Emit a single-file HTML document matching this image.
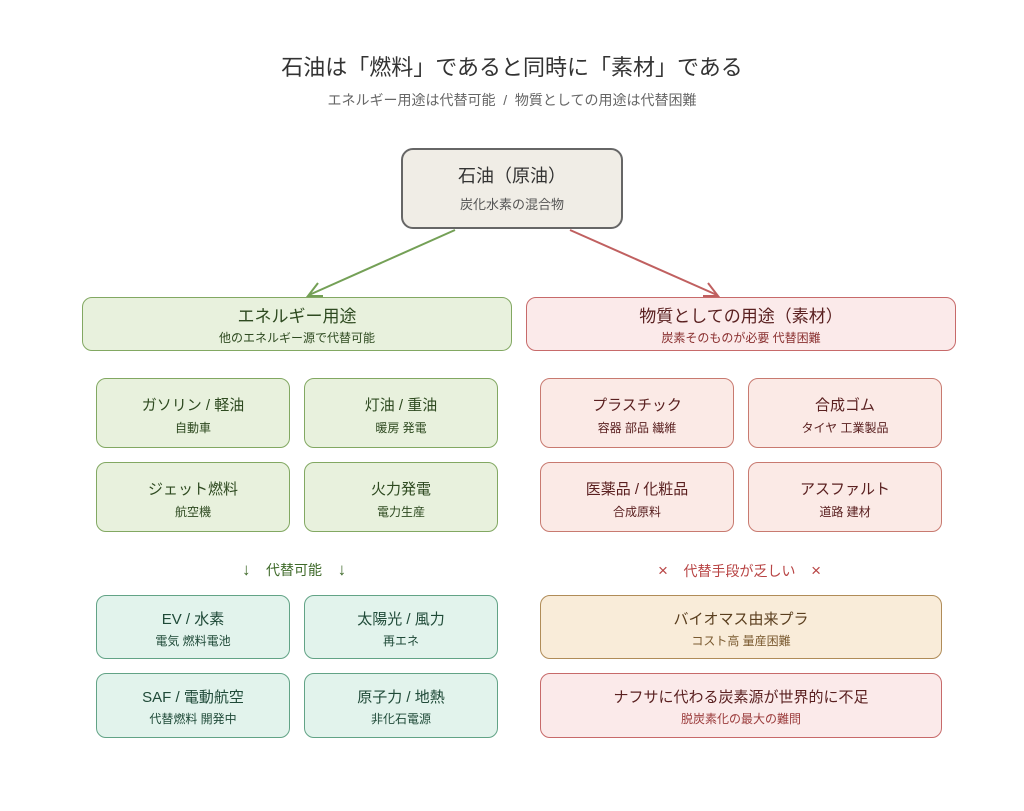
<!DOCTYPE html><html><head><meta charset="utf-8"><style>
body{margin:0;width:1024px;height:811px;background:#fff;font-family:"Liberation Sans","Noto Sans CJK JP",sans-serif;position:relative;overflow:hidden}
.b{position:absolute;box-sizing:border-box;border:1.5px solid;border-radius:10px;text-align:center}
.t{position:absolute;left:0;right:0;line-height:1.45}
.g{background:#e8f1dd;border-color:#82a862;color:#2e4a20}
.r{background:#fbeaea;border-color:#c76a6a;color:#5a2020}
.rs{background:#fbeae6;border-color:#c87a70;color:#5a2020}
.tl{background:#e2f3ec;border-color:#62a386;color:#1f4a38}
.o{background:#f9ecd9;border-color:#b08c58;color:#5a3e1e}
.s{position:absolute;font-size:14px;white-space:nowrap}
</style></head><body>
<div class="s" style="left:0;right:0;text-align:center;top:50px;font-size:22px;color:#333">石油は「燃料」であると同時に「素材」である</div>
<div class="s" style="left:0;right:0;text-align:center;top:90px;font-size:14px;color:#666">エネルギー用途は代替可能&nbsp;&nbsp;/&nbsp;&nbsp;物質としての用途は代替困難</div>

<div class="b" style="left:401px;top:148px;width:222px;height:81px;background:#f0ede6;border-color:#666;border-width:2px;border-radius:12px;color:#333">
<div class="t" style="top:13px;font-size:18px">石油（原油）</div><div class="t" style="top:46px;font-size:13px;color:#555">炭化水素の混合物</div></div>

<svg style="position:absolute;left:0;top:0" width="1024" height="811">
<line x1="455" y1="230" x2="309" y2="295" stroke="#74a056" stroke-width="2"/>
<polyline points="318,283 308,296 323,296" fill="none" stroke="#74a056" stroke-width="2"/>
<line x1="570" y1="230" x2="717" y2="295" stroke="#c06060" stroke-width="2"/>
<polyline points="703,296 718,296 708,283" fill="none" stroke="#c06060" stroke-width="2"/>
</svg>

<div class="b g" style="left:82px;top:297px;width:430px;height:54px"><div class="t" style="top:7px;font-size:17px">エネルギー用途</div><div class="t" style="top:32px;font-size:12px">他のエネルギー源で代替可能</div></div>
<div class="b r" style="left:526px;top:297px;width:430px;height:54px"><div class="t" style="top:7px;font-size:17px">物質としての用途（素材）</div><div class="t" style="top:32px;font-size:12px;color:#8a3030">炭素そのものが必要 代替困難</div></div>

<div class="b g" style="left:96px;top:378px;width:194px;height:70px"><div class="t" style="top:16px;font-size:15px">ガソリン / 軽油</div><div class="t" style="top:41px;font-size:12px">自動車</div></div>
<div class="b g" style="left:304px;top:378px;width:194px;height:70px"><div class="t" style="top:16px;font-size:15px">灯油 / 重油</div><div class="t" style="top:41px;font-size:12px">暖房 発電</div></div>
<div class="b g" style="left:96px;top:462px;width:194px;height:70px"><div class="t" style="top:16px;font-size:15px">ジェット燃料</div><div class="t" style="top:41px;font-size:12px">航空機</div></div>
<div class="b g" style="left:304px;top:462px;width:194px;height:70px"><div class="t" style="top:16px;font-size:15px">火力発電</div><div class="t" style="top:41px;font-size:12px">電力生産</div></div>

<div class="b rs" style="left:540px;top:378px;width:194px;height:70px"><div class="t" style="top:16px;font-size:15px">プラスチック</div><div class="t" style="top:41px;font-size:12px">容器 部品 繊維</div></div>
<div class="b rs" style="left:748px;top:378px;width:194px;height:70px"><div class="t" style="top:16px;font-size:15px">合成ゴム</div><div class="t" style="top:41px;font-size:12px">タイヤ 工業製品</div></div>
<div class="b rs" style="left:540px;top:462px;width:194px;height:70px"><div class="t" style="top:16px;font-size:15px">医薬品 / 化粧品</div><div class="t" style="top:41px;font-size:12px">合成原料</div></div>
<div class="b rs" style="left:748px;top:462px;width:194px;height:70px"><div class="t" style="top:16px;font-size:15px">アスファルト</div><div class="t" style="top:41px;font-size:12px">道路 建材</div></div>

<div class="s" style="left:242px;top:560px;color:#3f6a2a;font-size:14px"><span style="font-size:17px">↓</span>&nbsp;&nbsp;&nbsp;&nbsp;代替可能&nbsp;&nbsp;&nbsp;&nbsp;<span style="font-size:17px">↓</span></div>
<div class="s" style="left:658px;top:561px;color:#b84444"><span style="font-size:17px">×</span>&nbsp;&nbsp;&nbsp;&nbsp;代替手段が乏しい&nbsp;&nbsp;&nbsp;&nbsp;<span style="font-size:17px">×</span></div>

<div class="b tl" style="left:96px;top:595px;width:194px;height:64px"><div class="t" style="top:13px;font-size:15px">EV / 水素</div><div class="t" style="top:37px;font-size:12px">電気 燃料電池</div></div>
<div class="b tl" style="left:304px;top:595px;width:194px;height:64px"><div class="t" style="top:13px;font-size:15px">太陽光 / 風力</div><div class="t" style="top:37px;font-size:12px">再エネ</div></div>
<div class="b tl" style="left:96px;top:673px;width:194px;height:65px"><div class="t" style="top:13px;font-size:15px">SAF / 電動航空</div><div class="t" style="top:37px;font-size:12px">代替燃料 開発中</div></div>
<div class="b tl" style="left:304px;top:673px;width:194px;height:65px"><div class="t" style="top:13px;font-size:15px">原子力 / 地熱</div><div class="t" style="top:37px;font-size:12px">非化石電源</div></div>

<div class="b o" style="left:540px;top:595px;width:402px;height:64px"><div class="t" style="top:13px;font-size:15px">バイオマス由来プラ</div><div class="t" style="top:37px;font-size:12px;color:#7a5a30">コスト高 量産困難</div></div>
<div class="b r" style="left:540px;top:673px;width:402px;height:65px"><div class="t" style="top:13px;font-size:15px">ナフサに代わる炭素源が世界的に不足</div><div class="t" style="top:37px;font-size:12px;color:#9a3a3a">脱炭素化の最大の難問</div></div>
</body></html>
